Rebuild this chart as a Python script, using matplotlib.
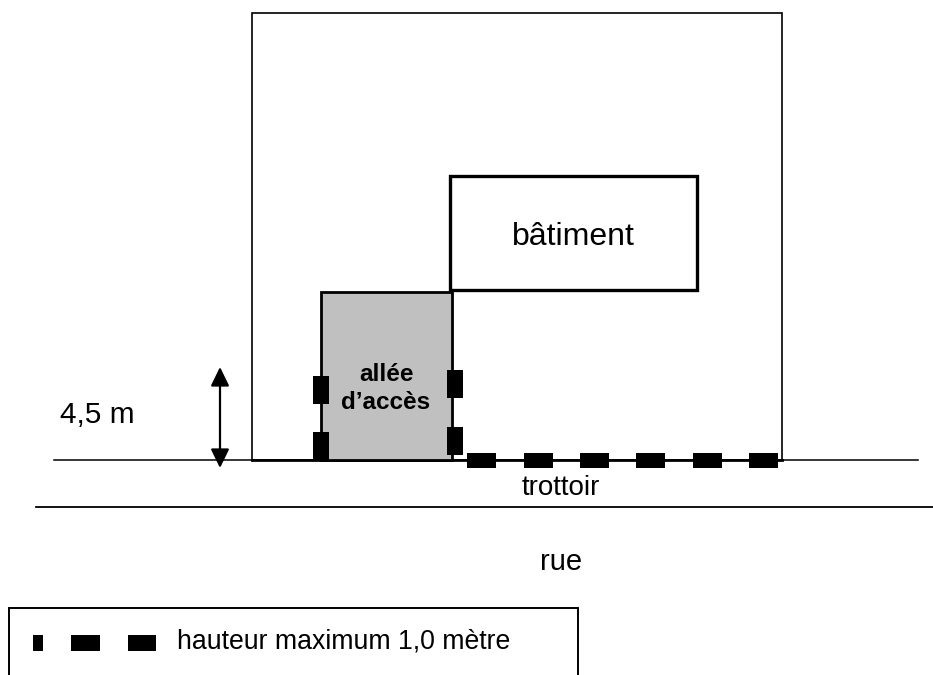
import matplotlib
matplotlib.use('Agg')
import matplotlib.pyplot as plt
from matplotlib.patches import Rectangle

# everything is in image pixels, y going down
# (x0, y0, x1, y1)
terrain = (252, 13, 782, 460)
batiment = (449.5, 176, 697, 290)
allee = (321, 292, 452, 459.5)

# blocks of the fence
haie_gauche = [(313, 376), (313, 432)]
haie_droite = [(446.5, 370), (446.5, 427)]
haie_trottoir = [467, 524, 580, 636, 693, 749]
legende_x = [(33, 43), (71, 99.5), (127.5, 155.5)]

# x, baseline y, text, size, weight
textes = [
    (573.5, 245, 'bâtiment', 23, 'normal'),
    (386, 381, 'allée', 17.5, 'bold'),
    (386, 409, 'd’accès', 17.5, 'bold'),
    (97, 423, '4,5 m', 21.5, 'normal'),
    (561, 495, 'trottoir', 20, 'normal'),
    (561, 570, 'rue', 21, 'normal'),
]


def boite(ax, coords, lw, fc='none', zorder=2):
    x0, y0, x1, y1 = coords
    ax.add_patch(Rectangle((x0, y0), x1 - x0, y1 - y0, fc=fc, ec='black',
                           lw=lw, zorder=zorder))


plt.rcParams['font.family'] = ['Liberation Sans', 'DejaVu Sans']

fig = plt.figure(figsize=(9.33, 6.75), dpi=100)
ax = fig.add_axes([0, 0, 1, 1])
ax.set_xlim(0, 933)
ax.set_ylim(675, 0)
ax.axis('off')

boite(ax, terrain, 1.2)
boite(ax, batiment, 2.4, fc='white')
boite(ax, allee, 2.0, fc='#c0c0c0')

# road lines
ax.plot([54, 918], [460, 460], color='black', lw=1.1, zorder=1)
ax.plot([252, 782], [460, 460], color='black', lw=2.0, zorder=1)
ax.plot([36, 933], [507, 507], color='black', lw=1.3, zorder=1)

# fence blocks
for x, y in haie_gauche + haie_droite:
    ax.add_patch(Rectangle((x, y), 16, 28, fc='black', ec='none', zorder=3))
for x in haie_trottoir:
    ax.add_patch(Rectangle((x, 452.5), 28.5, 15.5, fc='black', ec='none', zorder=3))

# 4,5 m arrow
ax.annotate('', xy=(220, 367), xytext=(220, 468),
            arrowprops=dict(arrowstyle='<|-|>,head_length=11.5,head_width=5.6',
                            color='black', lw=1.6, mutation_scale=1,
                            shrinkA=0, shrinkB=0))

for x, y, s, taille, poids in textes:
    ax.text(x, y, s, fontsize=taille, fontweight=poids, ha='center', va='baseline')

# legend box, cut by the bottom of the page
ax.plot([8.5, 8.5, 578, 578], [675, 607.5, 607.5, 675], color='black', lw=1.4,
        clip_on=True, solid_joinstyle='miter')
for x0, x1 in legende_x:
    ax.add_patch(Rectangle((x0, 635), x1 - x0, 16, fc='black', ec='none'))
ax.text(177, 649, 'hauteur maximum 1,0 mètre', fontsize=19.2, ha='left', va='baseline')

fig.savefig('out.png', dpi=100)
plt.close()
